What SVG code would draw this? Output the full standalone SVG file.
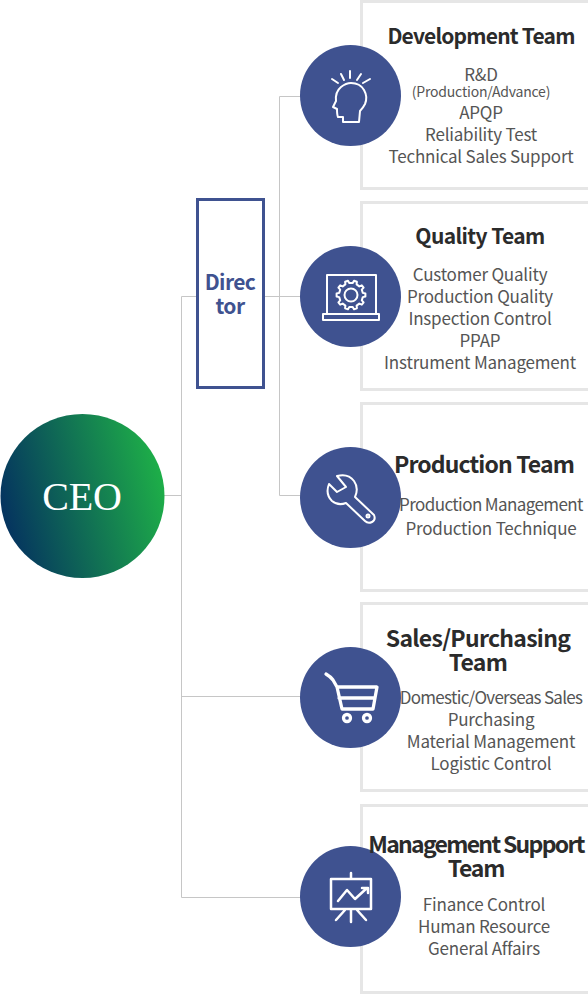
<svg xmlns="http://www.w3.org/2000/svg" width="588" height="995" viewBox="0 0 588 995">
<style>
text{font-family:"Noto Sans CJK KR","Noto Sans",sans-serif;text-anchor:middle}
.box{fill:#fff;stroke:#e6e6e6;stroke-width:3}
.c{fill:#3f5290}
.h{font-size:21px;font-weight:700;fill:#2b2b2b;letter-spacing:-.8px}
.h2{font-size:23px;font-weight:700;fill:#2b2b2b;letter-spacing:-.8px}
.t{font-size:17px;fill:#555;letter-spacing:-.2px}
.s{font-size:14px;fill:#555;letter-spacing:-.2px}
.i{fill:none;stroke:#fff;stroke-width:2;stroke-linecap:round;stroke-linejoin:round}
.b{stroke-width:3.300}
.l{fill:none;stroke:#c6c6c6;stroke-width:1}
.d{font-size:21px;font-weight:700;fill:#3f5290;letter-spacing:-.6px}
</style>
<defs><linearGradient id="g" x1="0.03" y1="0.62" x2="1" y2="0.38"><stop offset="0" stop-color="#05355f"/><stop offset="1" stop-color="#1eb048"/></linearGradient></defs>
<g id="connectors">
<path class="l" d="M164 495.500H181.500M181.500 296.500V897.500M181.500 296.500H197M181.500 696.500H301M181.500 897.500H301M264 296.500H301M279.500 96.500V495.500M279.500 96.500H301M279.500 495.500H301"/>
</g>
<g id="ceo"><circle cx="82.500" cy="496" r="82" fill="url(#g)"/><text x="82" y="510" style="font-family:'Liberation Serif',serif;font-size:40px;fill:#fff;letter-spacing:-.2px">CEO</text></g>
<g id="director"><rect x="197.500" y="199.500" width="66" height="188" fill="#fff" stroke="#3f5290" stroke-width="3"/><text class="d" x="230" y="290">Direc</text><text class="d" x="230" y="314">tor</text></g>

<g id="development">
<rect class="box" x="361.500" y="1.500" width="228" height="187"/>
<circle class="c" cx="350.500" cy="95.500" r="50.500"/>
<path class="i" d="M359 122H343V117H338Q337 115 337 109L333 107 336 101Q335 92 341 87 346 83 351 83 360 83 364 90 368 97 365 104 363 108 360 111Z"/>
<path class="i" d="M350 71V78M341 74L344 80M361 74L357 80M332 79L338 83M370 79L363 83"/>
<text class="h" x="481" y="44">Development Team</text>
<text class="t" x="481" y="81">R&amp;D</text>
<text class="s" x="481" y="97">(Production/Advance)</text>
<text class="t" x="481" y="119">APQP</text>
<text class="t" x="481" y="141">Reliability Test</text>
<text class="t" x="481" y="163">Technical Sales Support</text>
</g>

<g id="quality">
<rect class="box" x="361.500" y="202.500" width="228" height="187"/>
<circle class="c" cx="350.500" cy="296.500" r="50.500"/>
<path class="i" d="M327 313V275H376V313M323 314V320H379V314Z"/>
<path class="i" d="M362.800 292.900L365.400 293.500 365.400 296.500 362.800 297.100 361.800 300.300 363.600 302.300 361.800 304.700 359.300 303.600 356.600 305.600 356.900 308.200 354 309.200 352.700 306.900 349.300 306.900 348 309.200 345.100 308.200 345.400 305.600 342.700 303.600 340.200 304.700 338.400 302.300 340.200 300.300 339.200 297.100 336.600 296.500 336.600 293.500 339.200 292.900 340.200 289.700 338.400 287.700 340.200 285.300 342.700 286.400 345.400 284.400 345.100 281.800 348 280.800 349.300 283.100 352.700 283.100 354 280.800 356.900 281.800 356.600 284.400 359.300 286.400 361.800 285.300 363.600 287.700 361.800 289.700Z"/>
<circle class="i" cx="351" cy="295" r="6.500"/>
<text class="h" x="480" y="244" style="letter-spacing:-.6px">Quality Team</text>
<text class="t" x="480" y="281">Customer Quality</text>
<text class="t" x="480" y="303">Production Quality</text>
<text class="t" x="480" y="325">Inspection Control</text>
<text class="t" x="480" y="347">PPAP</text>
<text class="t" x="480" y="369">Instrument Management</text>
</g>

<g id="production">
<rect class="box" x="361.500" y="403.500" width="228" height="187"/>
<circle class="c" cx="350.500" cy="497.500" r="50.500"/>
<path class="i" d="M337 476Q348 473 354 481 359 488 355 497L374 515Q376 520 372 522 368 524 365 521L346 503Q338 506 332 501 325 494 329 484L337 492 346 487Z"/>
<circle class="i" cx="368" cy="516" r="1.500"/>
<text class="h2" x="484" y="473" style="letter-spacing:-.87px">Production Team</text>
<text class="t" x="491" y="511" style="letter-spacing:-.6px">Production Management</text>
<text class="t" x="491" y="535">Production Technique</text>
</g>

<g id="sales">
<rect class="box" x="361.500" y="603.500" width="228" height="187"/>
<circle class="c" cx="350.500" cy="697.500" r="50.500"/>
<path class="i b" d="M326 674Q331 677 333 680L337 687 342 709H373L377 687H337M339 698H375"/>
<circle class="i b" cx="347" cy="718" r="3.500"/>
<circle class="i b" cx="367" cy="718" r="3.500"/>
<text class="h2" x="478" y="647" style="letter-spacing:-.72px">Sales/Purchasing</text>
<text class="h2" x="478" y="671" style="letter-spacing:-.72px">Team</text>
<text class="t" x="491" y="704" style="letter-spacing:-.7px">Domestic/Overseas Sales</text>
<text class="t" x="491" y="726">Purchasing</text>
<text class="t" x="491" y="748">Material Management</text>
<text class="t" x="491" y="770">Logistic Control</text>
</g>

<g id="support">
<rect class="box" x="361.500" y="805.500" width="228" height="187"/>
<circle class="c" cx="350.500" cy="896.500" r="50.500"/>
<path class="i" style="stroke-width:2.500" d="M331 879H371V909H331ZM351 873V879M351 909V922M345 910L336 920M357 910L366 920"/>
<path class="i" style="stroke-width:2.500" d="M338 901L347 890 355 899 367 888M362 888H368V893"/>
<text class="h2" x="476" y="853" style="letter-spacing:-1.7px">Management Support</text>
<text class="h2" x="476" y="877" style="letter-spacing:-1.2px">Team</text>
<text class="t" x="484" y="911">Finance Control</text>
<text class="t" x="484" y="933">Human Resource</text>
<text class="t" x="484" y="955">General Affairs</text>
</g>
</svg>
